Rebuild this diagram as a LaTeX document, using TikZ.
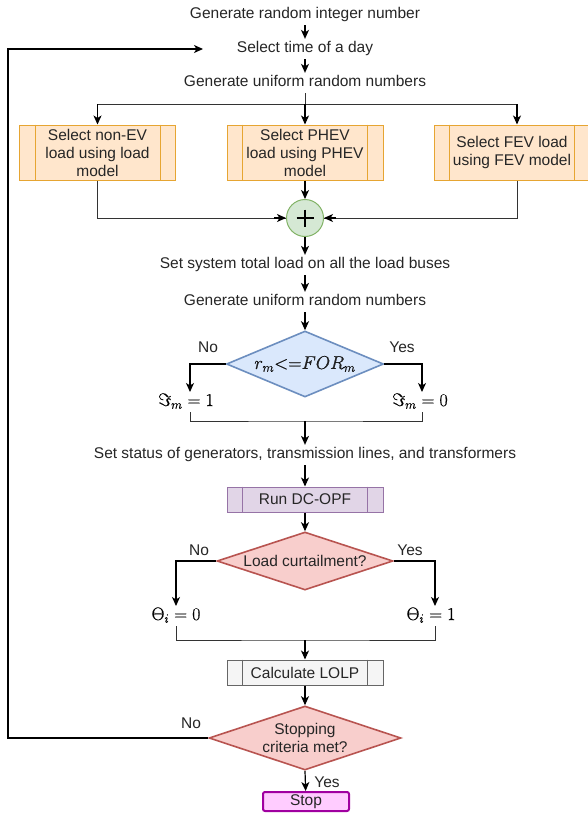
\documentclass[tikz,border=0pt]{standalone}
\usepackage{fix-cm}
\usepackage{fontspec}
\setmainfont{Liberation Sans}
\usetikzlibrary{shapes.geometric,arrows.meta,calc}
\definecolor{orfill}{HTML}{FFE6CC}
\definecolor{ordraw}{HTML}{E6A532}
\definecolor{grfill}{HTML}{D5E8D4}
\definecolor{grdraw}{HTML}{82B366}
\definecolor{blfill}{HTML}{DAE8FC}
\definecolor{bldraw}{HTML}{6C8EBF}
\definecolor{pufill}{HTML}{E1D5E7}
\definecolor{pudraw}{HTML}{9673A6}
\definecolor{rdfill}{HTML}{F8CECC}
\definecolor{rddraw}{HTML}{B85450}
\definecolor{gyfill}{HTML}{F5F5F5}
\definecolor{gydraw}{HTML}{666666}
\definecolor{stfill}{HTML}{FFCCFF}
\definecolor{stdraw}{HTML}{A000A0}
\definecolor{linegray}{HTML}{333333}
\newcommand\sidebars[2]{\draw[#2,line width=1pt] ($(#1.north west)+(16,0)$) -- ($(#1.south west)+(16,0)$) ($(#1.north east)+(-16,0)$) -- ($(#1.south east)+(-16,0)$);}
\newcommand\heavy[1]{\special{pdf:literal direct 0 G 2 Tr 0.12 w}#1\special{pdf:literal direct 0 Tr}}
\tikzset{
  txt/.style={font=\fontsize{15.5}{18}\selectfont, inner sep=0pt, outer sep=3pt, text height=11pt, text depth=3.3pt, text=black!85},
  lab/.style={font=\fontsize{15.5}{18}\selectfont, inner sep=0pt, text=black!85},
  mth/.style={font=\fontsize{18}{20}\selectfont, inner sep=0pt, outer sep=2pt, text height=12pt, text depth=4pt},
  proc/.style={draw=ordraw, fill=orfill, line width=1pt, minimum width=156pt, minimum height=55pt, inner sep=0pt, align=center, font=\fontsize{15.5}{18}\selectfont, text=black!85},
  thinbox/.style={line width=1pt, minimum width=156pt, minimum height=25pt, inner sep=0pt, font=\fontsize{15.5}{18}\selectfont, text=black!85},
  dia/.style={diamond, line width=1.6pt, inner sep=0pt, align=center, font=\fontsize{15.5}{18}\selectfont, text=black!85},
  arr/.style={-{Stealth[length=9pt,width=8pt,inset=2.5pt]}, line width=1.2pt, black},
  ln/.style={line width=1pt, linegray}
}
\begin{document}
\begin{tikzpicture}[x=1pt,y=-1pt]
\useasboundingbox (0,0) rectangle (588,816);
\fill[white] (0,0) rectangle (588,816);

\node[txt] (t1) at (305,15) {Generate random integer number};
\node[txt] (t2) at (305,49) {Select time of a day};
\node[txt] (t3) at (305,83) {Generate uniform random numbers};
\coordinate (br) at (305,104);

\node[proc] (b1) at (97.5,152.5) {Select non-EV\\load using load\\model};
\node[proc] (b2) at (305,152.5) {Select PHEV\\load using PHEV\\model};
\node[proc] (b3) at (512,152.5) {Select FEV load\\using FEV model};
\sidebars{b1}{ordraw}
\sidebars{b2}{ordraw}
\sidebars{b3}{ordraw}

\node[circle, draw=grdraw, fill=grfill, line width=1pt, minimum size=37pt, inner sep=0pt] (c) at (305,218) {};
\draw[line width=2.2pt] ($(c)+(-8.5,0)$) -- ($(c)+(8.5,0)$) ($(c)+(0,-8.5)$) -- ($(c)+(0,8.5)$);

\node[txt] (t4) at (305,265) {Set system total load on all the load buses};
\node[txt] (t5) at (305,302) {Generate uniform random numbers};

\node[dia, draw=bldraw, fill=blfill, minimum width=157pt, minimum height=66pt, aspect=2.38] (d1) at (305,364) {\fontsize{18.5}{20}\selectfont\heavy{$r_m{<}{=}FOR_m$}};
\node[lab] (n1) at (208,347) {No};
\node[lab] (y1) at (402,347) {Yes};
\node[mth] (m1) at (186,402) {\heavy{$\Im_m = 1$}};
\node[mth] (m0) at (420,402) {\heavy{$\Im_m = 0$}};
\coordinate (j1) at (305,421);

\node[txt] (t6) at (305,455) {Set status of generators, transmission lines, and transformers};
\node[thinbox, draw=pudraw, fill=pufill] (p1) at (305,499.5) {Run DC-OPF};
\sidebars{p1}{pudraw}

\node[dia, draw=rddraw, fill=rdfill, minimum width=176pt, minimum height=58pt, aspect=3.03] (d2) at (305,561) {Load curtailment?};
\node[lab] (n2) at (199,550) {No};
\node[lab] (y2) at (410,550) {Yes};
\node[mth] (th0) at (176,616) {\heavy{$\Theta_i = 0$}};
\node[mth] (th1) at (431,616) {\heavy{$\Theta_i = 1$}};
\coordinate (j2) at (305,640);

\node[thinbox, draw=gydraw, fill=gyfill] (p2) at (305,672.5) {Calculate LOLP};
\sidebars{p2}{gydraw}

\node[dia, draw=rddraw, fill=rdfill, minimum width=192pt, minimum height=64pt, aspect=3] (d3) at (305,738) {Stopping\\criteria met?};
\node[lab] (n3) at (191,723) {No};
\node[lab] (y3) at (327,782) {Yes};
\node[draw=stdraw, fill=stfill, line width=2pt, rounded corners=2pt, minimum width=86pt, minimum height=19pt, inner sep=0pt, font=\fontsize{15.5}{18}\selectfont, text=black!85] (st) at (306,801.5) {Stop};

\coordinate (lc) at (8,49);
\coordinate (lp) at (203,49);

% connectors
\draw[arr] (t1) -- (t2);
\draw[arr] (t2) -- (t3);
\draw[ln] (t3) -- (br);
\draw[ln] (b1.north |- br) -- ([xshift=5pt]b3.north |- br);
\draw[arr] (b1.north |- br) -- (b1.north);
\draw[arr] (br) -- (b2.north);
\draw[arr] ([xshift=5pt]b3.north |- br) -- ([xshift=5pt]b3.north);
\draw[ln] (b1.south) |- (c.west);
\draw[arr] ($(c.west)+(-12,0)$) -- (c.west);
\draw[ln] ([xshift=5pt]b3.south) |- (c.east);
\draw[arr] ($(c.east)+(12,0)$) -- (c.east);
\draw[arr] (b2.south) -- (c.north);
\draw[arr] (c.south) -- (t4);
\draw[arr] (t4) -- (t5);
\draw[arr] (t5) -- (d1.north);
\draw[arr] (d1.west) -| ([xshift=4pt]m1.north);
\draw[arr] (d1.east) -| ([xshift=2pt]m0.north);
\draw[ln] ([xshift=4pt]m1.south) |- (j1) -| ([xshift=2pt]m0.south);
\draw[arr] (j1) -- (t6);
\draw[arr] (t6) -- (p1);
\draw[arr] (p1) -- (d2.north);
\draw[arr] (d2.west) -| (th0.north);
\draw[arr] (d2.east) -| ([xshift=4pt]th1.north);
\draw[ln] (th0.south) |- (j2) -| ([xshift=4pt]th1.south);
\draw[arr] (j2) -- (p2);
\draw[arr] (p2) -- (d3.north);
\draw[arr] (d3.south) -- (st);
\draw[arr] (d3.west) -| (lc) -- (lp);
\end{tikzpicture}
\end{document}
